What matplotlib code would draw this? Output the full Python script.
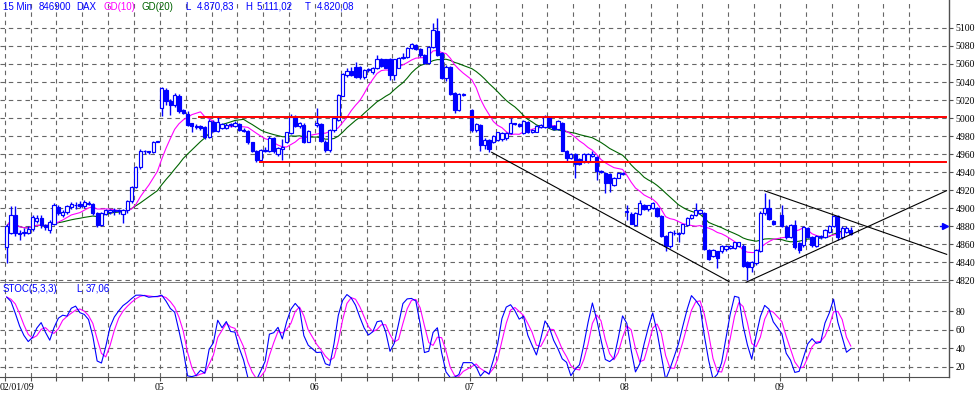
import matplotlib
matplotlib.use('Agg')
import matplotlib.pyplot as plt
import numpy as np
import pandas as pd
from matplotlib.patches import Rectangle

# ---------------- data (15-min bars: open, high, low, close) ----------------
day_labels = ['02/01/09', '05', '06', '07', '08', '09']

day_0201 = [
    (4857, 4882, 4839, 4880), (4873, 4902, 4871, 4893), (4893, 4902, 4869, 4872),
    (4871, 4876, 4865, 4873), (4872, 4878, 4869, 4874), (4873, 4880, 4871, 4877),
    (4877, 4892, 4875, 4890), (4886, 4893, 4884, 4889), (4889, 4893, 4878, 4881),
    (4881, 4883, 4876, 4879), (4876, 4887, 4873, 4885), (4883, 4906, 4881, 4903),
    (4901, 4903, 4893, 4895), (4892, 4898, 4890, 4896), (4896, 4904, 4894, 4902),
    (4901, 4907, 4899, 4905), (4903, 4907, 4899, 4903), (4905, 4908, 4900, 4902),
    (4902, 4909, 4900, 4907), (4906, 4908, 4903, 4905), (4905, 4906, 4893, 4895),
    (4895, 4896, 4879, 4881), (4881, 4896, 4880, 4895), (4894, 4899, 4892, 4898),
    (4896, 4899, 4894, 4898), (4897, 4900, 4893, 4897), (4897, 4899, 4894, 4897),
    (4894, 4899, 4884, 4898), (4898, 4909, 4895, 4908), (4908, 4925, 4906, 4924),
    (4924, 4947, 4922, 4946), (4946, 4966, 4944, 4963), (4963, 4965, 4960, 4963),
    (4963, 4964, 4960, 4962), (4962, 4975, 4961, 4974), (4974, 4975, 4973, 4974),
]
day_0501 = [
    (5011, 5035, 5002, 5033), (5031, 5033, 5015, 5019), (5019, 5021, 5003, 5015),
    (5014, 5028, 5012, 5026), (5025, 5027, 5006, 5008), (5009, 5010, 5004, 5006),
    (5005, 5008, 4991, 4992), (4994, 4995, 4984, 4991), (4991, 4993, 4988, 4990),
    (4991, 4992, 4987, 4989), (4990, 4991, 4977, 4979), (4979, 4999, 4978, 4997),
    (4996, 4998, 4985, 4986), (4986, 5001, 4984, 4996), (4989, 4995, 4988, 4993),
    (4989, 4994, 4988, 4992), (4992, 4994, 4990, 4992), (4991, 4997, 4990, 4995),
    (4993, 4995, 4986, 4987), (4987, 4989, 4985, 4986), (4986, 4987, 4971, 4973),
    (4973, 4974, 4962, 4964), (4964, 4965, 4951, 4953), (4953, 4966, 4952, 4965),
    (4965, 4968, 4962, 4964), (4963, 4980, 4962, 4978), (4978, 4979, 4961, 4963),
    (4960, 4968, 4958, 4967), (4966, 4977, 4953, 4968), (4974, 4985, 4972, 4984),
    (4983, 5004, 4982, 5001), (5001, 5003, 4990, 4991), (4991, 4996, 4989, 4994),
    (4992, 4994, 4972, 4974), (4974, 4987, 4973, 4986),
]
day_0601 = [
    (4992, 5011, 4990, 4994), (4993, 4995, 4973, 4975), (4974, 4976, 4962, 4965),
    (4965, 4988, 4962, 4987), (4987, 5001, 4985, 5000), (4998, 5027, 4997, 5026),
    (5025, 5050, 5024, 5049), (5048, 5055, 5046, 5052), (5052, 5057, 5047, 5048),
    (5057, 5062, 5044, 5046), (5057, 5058, 5043, 5046), (5046, 5054, 5043, 5053),
    (5053, 5055, 5051, 5053), (5051, 5057, 5049, 5056), (5055, 5070, 5054, 5066),
    (5065, 5067, 5057, 5058), (5065, 5066, 5055, 5056), (5066, 5067, 5042, 5048),
    (5048, 5066, 5042, 5065), (5056, 5068, 5055, 5067), (5067, 5072, 5066, 5068),
    (5068, 5079, 5067, 5078), (5078, 5083, 5077, 5082), (5081, 5082, 5076, 5077),
    (5077, 5078, 5068, 5070), (5070, 5071, 5060, 5061), (5061, 5080, 5060, 5079),
    (5079, 5105, 5078, 5098), (5097, 5111, 5069, 5070), (5072, 5073, 5043, 5044),
    (5044, 5059, 5041, 5057), (5057, 5058, 5026, 5027), (5028, 5029, 5006, 5009),
    (5009, 5028, 5008, 5027), (5026, 5028, 5024, 5027),
]
day_0701 = [
    (5009, 5010, 4985, 4987), (4987, 4995, 4985, 4993), (4992, 4993, 4964, 4970),
    (4970, 4978, 4966, 4976), (4976, 4977, 4962, 4966), (4974, 4981, 4972, 4980),
    (4976, 4985, 4975, 4984), (4977, 4984, 4975, 4983), (4978, 4984, 4976, 4983),
    (4983, 5000, 4982, 4994), (4994, 4995, 4992, 4993), (4993, 4994, 4990, 4991),
    (4983, 4998, 4982, 4997), (4996, 4997, 4983, 4984), (4984, 4988, 4983, 4987),
    (4985, 4992, 4984, 4991), (4990, 4993, 4989, 4992), (4990, 5003, 4989, 5001),
    (5001, 5002, 4989, 4990), (4991, 4992, 4987, 4988), (4988, 4998, 4987, 4997),
    (4995, 4996, 4963, 4964), (4964, 4965, 4951, 4956), (4956, 4961, 4955, 4960),
    (4960, 4961, 4934, 4949), (4955, 4956, 4948, 4949), (4952, 4961, 4950, 4960),
    (4952, 4961, 4950, 4960), (4958, 4964, 4957, 4960), (4957, 4958, 4931, 4941),
    (4940, 4942, 4939, 4941), (4939, 4940, 4917, 4928), (4938, 4939, 4918, 4928),
    (4926, 4935, 4925, 4934), (4934, 4940, 4933, 4939), (4938, 4940, 4937, 4939),
]
day_0801 = [
    (4896, 4903, 4887, 4896), (4894, 4896, 4882, 4883), (4881, 4896, 4880, 4895),
    (4894, 4909, 4893, 4906), (4903, 4905, 4898, 4899), (4899, 4904, 4897, 4903),
    (4900, 4907, 4899, 4906), (4900, 4901, 4890, 4891), (4891, 4892, 4868, 4869),
    (4869, 4870, 4852, 4858), (4858, 4875, 4856, 4874), (4872, 4876, 4870, 4873),
    (4871, 4874, 4863, 4873), (4872, 4883, 4871, 4882), (4881, 4890, 4880, 4889),
    (4889, 4894, 4888, 4893), (4892, 4906, 4891, 4898), (4895, 4899, 4894, 4898),
    (4895, 4896, 4854, 4855), (4854, 4855, 4843, 4844), (4847, 4855, 4846, 4854),
    (4852, 4853, 4834, 4845), (4852, 4859, 4850, 4858), (4855, 4859, 4853, 4858),
    (4856, 4859, 4855, 4858), (4856, 4863, 4855, 4862), (4858, 4863, 4857, 4862),
    (4858, 4860, 4835, 4836), (4840, 4841, 4820, 4835), (4835, 4841, 4829, 4840),
    (4839, 4855, 4837, 4854), (4852, 4897, 4851, 4895), (4895, 4917, 4893, 4900),
    (4900, 4910, 4887, 4888), (4886, 4887, 4881, 4882),
]
day_0901 = [
    (4892, 4904, 4879, 4880), (4879, 4881, 4866, 4868), (4868, 4883, 4867, 4881),
    (4881, 4887, 4855, 4857), (4861, 4862, 4850, 4854), (4859, 4880, 4857, 4879),
    (4878, 4879, 4867, 4868), (4868, 4869, 4857, 4859), (4858, 4870, 4857, 4869),
    (4868, 4870, 4866, 4869), (4868, 4877, 4867, 4876), (4874, 4881, 4873, 4880),
    (4880, 4892, 4879, 4891), (4891, 4892, 4865, 4868), (4868, 4880, 4866, 4878),
    (4874, 4880, 4872, 4878), (4876, 4879, 4870, 4871),
]
days = [day_0201, day_0501, day_0601, day_0701, day_0801, day_0901]

price_ticks = list(range(4820, 5101, 20))
stoch_ticks = [20, 40, 60, 80]
resistance_levels = [5001, 4951]          # red horizontal lines
resistance_start_px = [199, 260]
# trend lines (day position, price)
trend_lines = [
    ((3.1405, 4962.0), (4.671, 4818.6)),
    ((4.781, 4817.8), (6.074, 4919.4)),
    ((4.899, 4919.4), (6.075, 4848.8)),
]
last_marker_price = 4880
header_items = [("15 Min", 3, '#0000ff'), ("846900", 39, '#0000ff'), ("DAX", 76, '#0000ff'),
                ("GD(10)", 103, '#ff00ff'), ("GD(20)", 142, '#006400'),
                ("L", 185, '#0000ff'), ("4.870,83", 197, '#0000ff'),
                ("H", 245, '#0000ff'), ("5.111,02", 257, '#0000ff'),
                ("T", 305, '#0000ff'), ("4.820,08", 317, '#0000ff')]
stoch_header = [("STOC(5,3,3)", 3), ("L", 76), ("37,06", 86)]

# ---------------- geometry ----------------
W, HPX = 980, 395
DAY_PX = 155.04
X0_PX = 4.8
BPD = 36.0
RIGHT_PX = 949

def px2day(px):
    return (px - X0_PX) / DAY_PX

xs, O, Hh, Ll, C = [], [], [], [], []
for d, bars in enumerate(days):
    for j, (o, h, l, c) in enumerate(bars):
        xs.append(d + (j + 0.44) / BPD)
        O.append(o); Hh.append(h); Ll.append(l); C.append(c)
xs = np.array(xs)
df = pd.DataFrame({'o': O, 'h': Hh, 'l': Ll, 'c': C})
ma10 = df['c'].rolling(10, min_periods=1).mean()
ma20 = df['c'].rolling(20, min_periods=1).mean()
hh = df['h'].rolling(5, min_periods=1).max()
ll = df['l'].rolling(5, min_periods=1).min()
raw = 100 * (df['c'] - ll) / (hh - ll).replace(0, np.nan)
raw = raw.fillna(50)
stk = raw.rolling(3, min_periods=1).mean()
std = stk.rolling(3, min_periods=1).mean()

fig = plt.figure(figsize=(W / 100, HPX / 100), dpi=100)
fig.patch.set_facecolor('white')
ax = fig.add_axes([0, 1 - 283 / HPX, RIGHT_PX / W, 283 / HPX])
ax2 = fig.add_axes([0, 1 - 377 / HPX, RIGHT_PX / W, 94 / HPX])

xlim = (px2day(0), px2day(RIGHT_PX))
grid_c = '#666666'
dash = (0, (4, 3.5))
vgrid = [k / 6 for k in range(0, 36)]

for a in (ax, ax2):
    a.set_xlim(*xlim)
    for s in ('top', 'left'):
        a.spines[s].set_visible(False)
    a.spines['right'].set_color('#505050')
    a.spines['right'].set_linewidth(1.0)
    for v in vgrid:
        a.axvline(v, color=grid_c, lw=0.8, ls=dash, zorder=1)

ax.set_ylim(4817, 5131)
ax.spines['bottom'].set_color('#808080')
ax.spines['bottom'].set_linewidth(1.4)
for p in price_ticks:
    ax.axhline(p, color=grid_c, lw=0.8, ls=dash, zorder=1)

# moving averages
ax.plot(xs, ma20, color='#006400', lw=0.8, zorder=2)
ax.plot(xs, ma10, color='#ff00ff', lw=0.8, zorder=2)

# candles
blue = '#0000ff'
bw = 3.2 / DAY_PX
ax.vlines(xs, df['l'], df['h'], color=blue, lw=1.0, zorder=3)
for x, o, c in zip(xs, df['o'], df['c']):
    bottom = min(o, c)
    hgt = max(abs(c - o), 1.0)
    fc = 'white' if c >= o else blue
    ax.add_patch(Rectangle((x - bw / 2, bottom), bw, hgt, facecolor=fc,
                           edgecolor=blue, lw=0.85, zorder=4))

# resistance lines
for lvl, spx in zip(resistance_levels, resistance_start_px):
    ax.plot([px2day(spx), px2day(946)], [lvl, lvl], color='#ff0000', lw=1.4, zorder=5)
# trend lines
for (x1, y1), (x2, y2) in trend_lines:
    ax.plot([x1, x2], [y1, y2], color='black', lw=0.8, zorder=5)
# last price marker
ax.plot([px2day(940), px2day(945)], [last_marker_price] * 2, color=blue, lw=1, zorder=6)
ax.plot([px2day(945)], [last_marker_price], marker='>', color=blue, ms=4, zorder=6)

ax.yaxis.tick_right()
ax.set_yticks(price_ticks)
ax.set_yticklabels([str(p) for p in price_ticks])
ax.set_xticks([])
ax.tick_params(axis='y', length=3, width=0.8, color='#505050', pad=1.5,
               labelsize=7, labelcolor='black')
for t in ax.get_yticklabels():
    t.set_family('Liberation Serif')

# stochastic panel
ax2.set_ylim(9.1, 110.5)
ax2.spines['bottom'].set_color('#505050')
for s in stoch_ticks:
    ax2.axhline(s, color=grid_c, lw=0.8, ls=dash, zorder=1)
ax2.plot(xs, std, color='#ff00ff', lw=0.8, zorder=3)
ax2.plot(xs, stk, color=blue, lw=0.8, zorder=4)
ax2.yaxis.tick_right()
ax2.set_yticks(stoch_ticks)
ax2.set_yticklabels([str(s) for s in stoch_ticks])
ax2.tick_params(axis='y', length=3, width=0.8, color='#505050', pad=1.5,
                labelsize=7, labelcolor='black')
ax2.set_xticks(vgrid)
ax2.set_xticklabels(['' if (k % 6 or k == 0) else day_labels[k // 6] for k in range(36)])
ax2.tick_params(axis='x', length=3, width=0.8, color='#505050', pad=1.5,
                labelsize=7, labelcolor='black')
for t in ax2.get_yticklabels() + ax2.get_xticklabels():
    t.set_family('Liberation Serif')
fig.text(0 / W, 1 - 387 / HPX, day_labels[0], ha='left', va='center',
         fontsize=7, family='Liberation Serif', color='black')

# header texts
for s, xp, col in header_items:
    fig.text(xp / W, 1 - 6.5 / HPX, s, ha='left', va='center', fontsize=7,
             family='Liberation Sans', color=col)
for s, xp in stoch_header:
    fig.text(xp / W, 1 - 288.5 / HPX, s, ha='left', va='center', fontsize=7,
             family='Liberation Sans', color='#0000ff')

fig.savefig('out.png', dpi=100, facecolor='white')
